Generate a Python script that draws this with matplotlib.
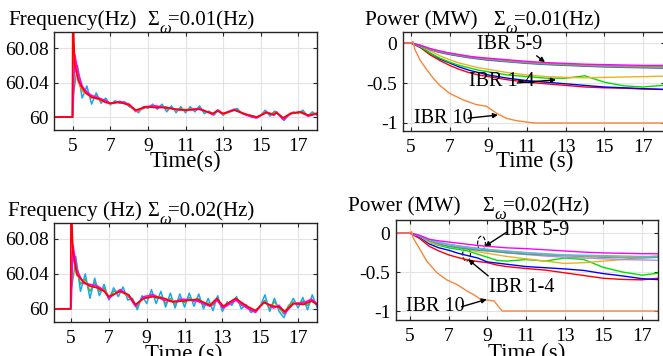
import numpy as np
import matplotlib.pyplot as plt
from matplotlib.patches import Ellipse

plt.rcParams['font.family'] = ['Liberation Serif', 'DejaVu Serif']

W, H = 663, 356

# ---------------- frequency panels ----------------
# smooth traces (red, magenta, orange)
tk_top = [4.0, 4.98, 5.0, 5.1, 5.3, 5.5, 5.7, 6.0, 6.4, 6.75, 7.0, 7.5, 8.0, 8.35, 8.9, 9.4,
          9.95, 10.5, 11.0, 11.75, 12.45, 12.7, 13.0, 13.6, 14.25, 14.8, 15.3, 15.7, 15.85,
          16.2, 16.6, 17.1, 17.55, 18.0]
f_red_top = [60.0, 60.0, 60.13, 60.062, 60.042, 60.034, 60.028, 60.023, 60.021, 60.017, 60.016,
             60.017, 60.014, 60.008, 60.012, 60.011, 60.011, 60.009, 60.008, 60.009, 60.004,
             60.007, 60.004, 60.008, 60.003, 60.0, 60.005, 60.003, 60.005, 59.999, 60.004,
             60.006, 60.002, 60.004]
f_mag_top = [60.0, 60.0, 60.0, 60.073, 60.05, 60.036, 60.03, 60.025, 60.022, 60.019, 60.016,
             60.018, 60.015, 60.007, 60.012, 60.013, 60.011, 60.009, 60.008, 60.010, 60.003,
             60.008, 60.004, 60.009, 60.002, 59.999, 60.006, 60.002, 60.006, 59.997, 60.004,
             60.006, 60.001, 60.004]
f_ora_top = [60.0, 60.0, 60.06, 60.068, 60.04, 60.03, 60.027, 60.023, 60.02, 60.017, 60.015,
             60.018, 60.014, 60.006, 60.011, 60.012, 60.012, 60.008, 60.009, 60.009, 60.004,
             60.008, 60.003, 60.008, 60.003, 60.0, 60.006, 60.003, 60.005, 59.999, 60.005,
             60.005, 60.002, 60.005]

tk_bot = [4.0, 4.98, 5.0, 5.1, 5.3, 5.65, 6.0, 6.4, 6.75, 7.0, 7.6, 8.05, 8.4, 8.85, 9.35, 9.9,
          10.4, 10.95, 11.65, 12.35, 12.7, 13.05, 13.7, 14.3, 14.75, 15.2, 15.7, 16.0, 16.3,
          16.75, 17.3, 17.7, 18.0]
f_red_bot = [60.0, 60.0, 60.13, 60.065, 60.04, 60.031, 60.026, 60.024, 60.02, 60.014, 60.02,
             60.016, 60.005, 60.012, 60.014, 60.012, 60.008, 60.009, 60.011, 60.004, 60.012,
             60.003, 60.012, 60.003, 59.998, 60.007, 60.003, 60.002, 59.997, 60.006, 60.005,
             60.009, 60.005]
f_mag_bot = [60.0, 60.0, 60.0, 60.073, 60.045, 60.029, 60.028, 60.026, 60.021, 60.012, 60.022,
             60.015, 60.003, 60.014, 60.016, 60.01, 60.008, 60.011, 60.009, 60.003, 60.01,
             60.001, 60.01, 60.001, 59.996, 60.008, 60.001, 60.004, 59.995, 60.006, 60.007,
             60.011, 60.006]
f_ora_bot = [60.0, 60.0, 60.05, 60.07, 60.038, 60.032, 60.026, 60.024, 60.022, 60.014, 60.02,
             60.014, 60.004, 60.012, 60.015, 60.012, 60.009, 60.01, 60.01, 60.005, 60.011,
             60.003, 60.01, 60.003, 59.998, 60.007, 60.003, 60.003, 59.997, 60.007, 60.006,
             60.009, 60.006]

# oscillating traces (cyan, green), 0.25 s steps after the event
tg = [4.0, 4.98] + list(np.arange(5.0, 18.01, 0.25))
f_cya_top = [60.0, 60.0, 60.05, 60.055, 60.022, 60.036, 60.015, 60.028, 60.016, 60.022, 60.014,
             60.019, 60.016, 60.018, 60.012, 60.010, 60.005, 60.012, 60.010, 60.015, 60.009,
             60.015, 60.006, 60.013, 60.005, 60.012, 60.005, 60.012, 60.006, 60.013, 60.004,
             60.007, 60.002, 60.008, 60.002, 60.006, 60.008, 60.010, 60.004, 60.003, 60.0,
             59.999, 60.002, 60.008, 60.001, 60.007, 60.002, 59.996, 60.003, 60.006, 60.004,
             60.008, 60.001, 60.006, 60.002]
f_grn_top = [60.0, 60.0, 60.02, 60.06, 60.03, 60.03, 60.022, 60.025, 60.019, 60.02, 60.015,
             60.018, 60.017, 60.017, 60.013, 60.009, 60.007, 60.011, 60.012, 60.013, 60.011,
             60.013, 60.009, 60.011, 60.008, 60.01, 60.007, 60.01, 60.009, 60.011, 60.006,
             60.006, 60.004, 60.008, 60.004, 60.005, 60.008, 60.009, 60.005, 60.003, 60.001,
             60.0, 60.002, 60.006, 60.003, 60.006, 60.003, 59.998, 60.003, 60.005, 60.005,
             60.006, 60.002, 60.004, 60.004]
f_cya_bot = [60.0, 60.0, 60.05, 60.06, 60.02, 60.04, 60.012, 60.035, 60.015, 60.028, 60.01,
             60.024, 60.014, 60.025, 60.01, 60.012, 59.999, 60.015, 60.006, 60.022, 60.006,
             60.02, 60.002, 60.018, 60.001, 60.017, 60.002, 60.018, 60.003, 60.017, 60.0,
             60.012, 59.998, 60.015, 59.997, 60.008, 60.004, 60.014, 60.0, 60.005, 59.996,
             59.998, 60.003, 60.016, 59.997, 60.012, 59.997, 59.99, 60.002, 60.012, 60.001,
             60.013, 59.999, 60.016, 60.002]
f_grn_bot = [60.0, 60.0, 60.02, 60.055, 60.028, 60.034, 60.02, 60.03, 60.02, 60.024, 60.012,
             60.02, 60.02, 60.02, 60.014, 60.009, 60.002, 60.012, 60.012, 60.017, 60.012,
             60.014, 60.006, 60.012, 60.005, 60.012, 60.007, 60.013, 60.008, 60.012, 60.004,
             60.007, 60.004, 60.011, 60.001, 60.006, 60.009, 60.01, 60.004, 60.002, 59.998,
             59.997, 60.004, 60.01, 60.0, 60.008, 60.001, 59.994, 60.004, 60.008, 60.006,
             60.009, 60.004, 60.01, 60.005]

# ---------------- power panels ----------------
tp = [4.0, 5.0, 5.5, 6.0, 6.5, 7.0, 7.5, 8.0, 8.5, 9.0, 9.5, 10.0, 11.0, 12.0, 13.0, 14.0,
      15.0, 16.0, 17.0, 18.0]
p_top = {
    '#FF0000': [0, 0, -0.06, -0.15, -0.22, -0.28, -0.33, -0.37, -0.40, -0.42, -0.44, -0.46,
                -0.49, -0.51, -0.53, -0.55, -0.56, -0.565, -0.575, -0.58],
    '#0000FF': [0, 0, -0.05, -0.13, -0.20, -0.25, -0.30, -0.34, -0.37, -0.40, -0.42, -0.44,
                -0.47, -0.49, -0.51, -0.53, -0.55, -0.56, -0.57, -0.58],
    '#00E000': [0, 0, -0.05, -0.13, -0.19, -0.24, -0.28, -0.31, -0.34, -0.36, -0.38, -0.40,
                -0.42, -0.44, -0.44, -0.41, -0.49, -0.535, -0.55, -0.53],
    '#EDB120': [0, 0, -0.04, -0.10, -0.16, -0.21, -0.25, -0.28, -0.31, -0.33, -0.35, -0.37,
                -0.40, -0.42, -0.43, -0.435, -0.43, -0.425, -0.42, -0.415],
    '#4DBEEE': [0, 0, -0.03, -0.075, -0.105, -0.13, -0.15, -0.17, -0.185, -0.20, -0.21, -0.22,
                -0.24, -0.255, -0.265, -0.275, -0.28, -0.285, -0.29, -0.29],
    '#3F9F8F': [0, 0, -0.035, -0.08, -0.115, -0.14, -0.16, -0.18, -0.195, -0.21, -0.22, -0.23,
                -0.25, -0.265, -0.275, -0.285, -0.29, -0.295, -0.30, -0.30],
    '#2F6FD0': [0, 0, -0.035, -0.085, -0.12, -0.145, -0.165, -0.185, -0.20, -0.215, -0.225,
                -0.235, -0.255, -0.27, -0.28, -0.29, -0.30, -0.305, -0.31, -0.315],
    '#A0A040': [0, 0, -0.03, -0.08, -0.11, -0.135, -0.155, -0.175, -0.19, -0.205, -0.215,
                -0.225, -0.245, -0.26, -0.27, -0.28, -0.29, -0.295, -0.30, -0.305],
    '#FF00FF': [0, 0, -0.03, -0.07, -0.10, -0.125, -0.145, -0.165, -0.18, -0.19, -0.20, -0.21,
                -0.23, -0.245, -0.255, -0.265, -0.27, -0.275, -0.28, -0.28],
}
p_bot = {
    '#FF0000': [0, 0, -0.07, -0.17, -0.23, -0.28, -0.315, -0.345, -0.365, -0.38, -0.41, -0.43,
                -0.455, -0.475, -0.51, -0.545, -0.58, -0.595, -0.6, -0.575],
    '#0000FF': [0, 0, -0.05, -0.14, -0.19, -0.22, -0.26, -0.29, -0.32, -0.37, -0.385, -0.40,
                -0.43, -0.445, -0.46, -0.48, -0.52, -0.55, -0.585, -0.60],
    '#00E000': [0, 0, -0.04, -0.12, -0.16, -0.19, -0.21, -0.23, -0.27, -0.31, -0.35, -0.36,
                -0.34, -0.36, -0.32, -0.34, -0.44, -0.50, -0.54, -0.51],
    '#EDB120': [0, 0, -0.04, -0.12, -0.15, -0.17, -0.19, -0.21, -0.24, -0.26, -0.28, -0.30,
                -0.33, -0.36, -0.39, -0.38, -0.36, -0.34, -0.31, -0.29],
    '#B58CE0': [0, 0, -0.035, -0.09, -0.125, -0.15, -0.175, -0.195, -0.21, -0.225, -0.24,
                -0.255, -0.275, -0.295, -0.31, -0.32, -0.33, -0.34, -0.345, -0.35],
    '#3F9F8F': [0, 0, -0.04, -0.10, -0.14, -0.17, -0.19, -0.205, -0.22, -0.23, -0.24, -0.25,
                -0.27, -0.28, -0.29, -0.30, -0.31, -0.315, -0.32, -0.31],
    '#C8A040': [0, 0, -0.03, -0.085, -0.12, -0.145, -0.165, -0.18, -0.195, -0.21, -0.225,
                -0.235, -0.255, -0.27, -0.285, -0.295, -0.30, -0.31, -0.31, -0.30],
    '#4DBEEE': [0, 0, -0.035, -0.09, -0.12, -0.145, -0.165, -0.185, -0.20, -0.21, -0.22, -0.23,
                -0.25, -0.265, -0.28, -0.285, -0.29, -0.295, -0.30, -0.30],
    '#FF00FF': [0, 0, -0.03, -0.08, -0.10, -0.115, -0.13, -0.145, -0.16, -0.17, -0.18, -0.19,
                -0.20, -0.215, -0.23, -0.245, -0.255, -0.26, -0.265, -0.265],
}
t_ibr10_top = [4.0, 5.0, 5.1, 5.2, 5.46, 5.8, 6.15, 6.49, 7.0, 7.69, 8.38, 8.9, 9.41, 9.92,
               10.43, 11.12, 11.46, 18.0]
p_ibr10_top = [0, 0, 0.02, -0.08, -0.21, -0.33, -0.44, -0.53, -0.63, -0.71, -0.77, -0.79,
               -0.875, -0.94, -0.97, -0.992, -1.0, -1.0]
t_ibr10_bot = [4.0, 5.0, 5.08, 5.17, 5.52, 5.87, 6.4, 6.9, 7.43, 7.96, 8.3, 8.65, 9.0, 9.35,
               9.7, 9.78, 18.0]
p_ibr10_bot = [0, 0, 0.02, -0.064, -0.21, -0.36, -0.51, -0.6, -0.66, -0.745, -0.79, -0.85,
               -0.86, -0.87, -0.98, -1.0, -1.0]

xticks = [5, 7, 9, 11, 13, 15, 17]
fig = plt.figure(figsize=(W / 100, H / 100), dpi=100)


def add_ax(l, t, r, b):
    ax = fig.add_axes([l / W, 1 - b / H, (r - l) / W, (b - t) / H])
    ax.set_xticks(xticks)
    ax.grid(True, color='#E3E3E3', lw=0.8)
    ax.tick_params(direction='in', length=3, top=True, right=True, labelsize=14,
                   colors='#262626', labelcolor='black')
    ax.tick_params(axis='x', pad=6)
    ax.tick_params(axis='y', pad=4)
    for s in ax.spines.values():
        s.set_color('#262626')
        s.set_linewidth(1.0)
    return ax


def freq_panel(ax, tk, red, mag, ora, cya, grn):
    ax.plot(tg, cya, color='#1AA7EC', lw=1.1)
    ax.plot(tg, grn, color='#3CB44B', lw=1.0)
    ax.plot(tk, ora, color='#F5873A', lw=1.0)
    ax.plot(tk, mag, color='#FF00FF', lw=1.2)
    ax.plot(tk, red, color='#FF0000', lw=1.2)
    ax.set_yticks([60, 60.04, 60.08])
    ax.set_yticklabels(['60', '60.04', '60.08'])


def power_panel(ax, tp, series, t10, p10):
    for c, v in series.items():
        ax.plot(tp, v, color=c, lw=1.0)
    ax.plot(t10, p10, color='#F5873A', lw=1.0)
    ax.set_yticks([0, -0.5, -1])
    ax.set_yticklabels(['0', '-0.5', '-1'])


ax1 = add_ax(54, 32, 317, 130)
freq_panel(ax1, tk_top, f_red_top, f_mag_top, f_ora_top, f_cya_top, f_grn_top)
ax1.set_xlim(4, 18)
ax1.set_ylim(59.985, 60.0986)

ax2 = add_ax(403, 32, 665, 131)
power_panel(ax2, tp, p_top, t_ibr10_top, p_ibr10_top)
ax2.set_xlim(4.586, 18.14)
ax2.set_ylim(-1.1, 0.1375)

ax3 = add_ax(54, 223, 317, 322)
freq_panel(ax3, tk_bot, f_red_bot, f_mag_bot, f_ora_bot, f_cya_bot, f_grn_bot)
ax3.set_xlim(4.1, 18)
ax3.set_ylim(59.985, 60.098)

ax4 = add_ax(396, 220, 658, 320)
power_panel(ax4, tp, p_bot, t_ibr10_bot, p_ibr10_bot)
ax4.set_xlim(4.28, 17.83)
ax4.set_ylim(-1.115, 0.167)

# annotations
arr = dict(arrowstyle='-|>', color='black', lw=1.0, mutation_scale=7, shrinkA=0, shrinkB=0)
fs_a = 14.5
ax2.text(10.1, -0.02, 'IBR 5-9', fontsize=fs_a, ha='center', va='center')
ax2.annotate('', xy=(11.93, -0.24), xytext=(11.5, -0.16), arrowprops=arr)
ax2.text(9.69, -0.48, 'IBR 1-4', fontsize=fs_a, ha='center', va='center')
ax2.annotate('', xy=(12.5, -0.46), xytext=(10.5, -0.5), arrowprops=arr)
ax2.text(6.68, -0.94, 'IBR 10', fontsize=fs_a, ha='center', va='center')
ax2.annotate('', xy=(9.5, -0.9), xytext=(7.95, -0.94), arrowprops=arr)

ax4.text(11.55, 0.026, 'IBR 5-9', fontsize=fs_a, ha='center', va='center')
ax4.annotate('', xy=(8.88, -0.17), xytext=(10.0, 0.01), arrowprops=arr)
ax4.text(10.78, -0.70, 'IBR 1-4', fontsize=fs_a, ha='center', va='center')
ax4.annotate('', xy=(8.02, -0.34), xytext=(9.05, -0.55), arrowprops=arr)
ax4.text(6.29, -0.94, 'IBR 10', fontsize=fs_a, ha='center', va='center')
ax4.annotate('', xy=(8.97, -0.85), xytext=(7.67, -0.945), arrowprops=arr)
ax4.add_patch(Ellipse((8.7, -0.13), 0.4, 0.18, fill=False, ls='--', lw=0.8, color='black'))
ax4.add_patch(Ellipse((7.93, -0.27), 0.4, 0.18, fill=False, ls='--', lw=0.8, color='black'))


def ftxt(x, y, s, **kw):
    fig.text(x / W, 1 - y / H, s, va='baseline', **kw)


def sigma(x, y, val):
    # Sigma with omega subscript, then the value
    ftxt(x, y, '\u03a3', fontsize=14.5)
    ftxt(x + 12, y + 8, '\u03c9', fontsize=12, style='italic')
    ftxt(x + 21, y, '=' + val + '(Hz)', fontsize=15)


fs_t = 15.3
ftxt(8, 25, 'Frequency(Hz)', fontsize=fs_t)
sigma(147, 25, '0.01')
ftxt(365, 25, 'Power (MW)', fontsize=fs_t)
sigma(493, 25, '0.01')
ftxt(8, 216, 'Frequency (Hz)', fontsize=fs_t)
sigma(147, 216, '0.02')
ftxt(348, 211, 'Power (MW)', fontsize=fs_t)
sigma(482, 211, '0.02')

fs_x = 16.5
ftxt(185, 167, 'Time(s)', fontsize=fs_x, ha='center')
ftxt(535, 167, 'Time (s)', fontsize=fs_x, ha='center')
ftxt(184, 360, 'Time (s)', fontsize=fs_x, ha='center')
ftxt(527, 359, 'Time (s)', fontsize=fs_x, ha='center')

fig.savefig('out.png', dpi=100)
